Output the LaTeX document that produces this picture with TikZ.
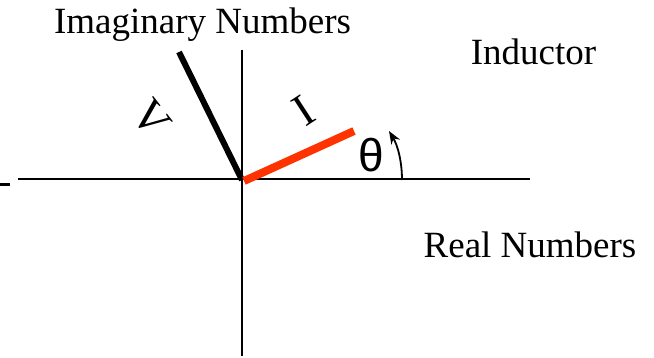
\documentclass[tikz,border=0pt]{standalone}
\usepackage{fontspec}
\setmainfont{Liberation Serif}
\newfontfamily\thetafont{Liberation Sans}
\usetikzlibrary{arrows.meta}
\begin{document}
\begin{tikzpicture}[x=1pt,y=-1pt,
  axis/.style={line width=2pt,black},
  lbl/.style={inner sep=0pt,font=\fontsize{37}{40}\selectfont,anchor=base},
  phasorlbl/.style={inner sep=0pt,font=\fontsize{46}{50}\selectfont},
  vphasor/.style={line width=6pt,black},
  iphasor/.style={line width=8pt,phasorred},
]
\definecolor{phasorred}{RGB}{255,51,0}
\useasboundingbox (0,0) rectangle (654,358);
% axes
\coordinate (xl) at (18,179.5);
\coordinate (xr) at (530,179.5);
\coordinate (yt) at (242,50);
\coordinate (yb) at (242,356);
\coordinate (O) at (242,180);
\draw[axis] (xl) -- (xr);
\draw[axis] (yt) -- (yb);
% left tick
\coordinate (t1) at (0,184.5);
\coordinate (t2) at (10,184.5);
\draw[line width=3pt] (t1) -- (t2);
% phasors
\coordinate (Vend) at (179,52);
\coordinate (Iend) at (354,131);
\draw[vphasor] (O) -- (Vend);
\draw[iphasor] (244,181) -- (Iend);
% labels
\node[lbl] (imag) at (202.5,34) {Imaginary Numbers};
\node[lbl] (ind) at (533.5,65) {Inductor};
\node[lbl] (real) at (530,258) {Real Numbers};
\node[phasorlbl,rotate=-52] (V) at (151,119) {V};
\node[phasorlbl,rotate=33] (I) at (304,111) {I};
\node[inner sep=0pt,font=\thetafont\fontsize{46}{48}\selectfont] (th) at (371,155) {θ};
% angle arrow
\coordinate (a1) at (402,180);
\coordinate (a2) at (389,131);
\draw[line width=1.8pt,-{Stealth[length=13pt,width=10pt]}] (a1) .. controls (402,162) and (398,146) .. (a2);
\end{tikzpicture}
\end{document}
